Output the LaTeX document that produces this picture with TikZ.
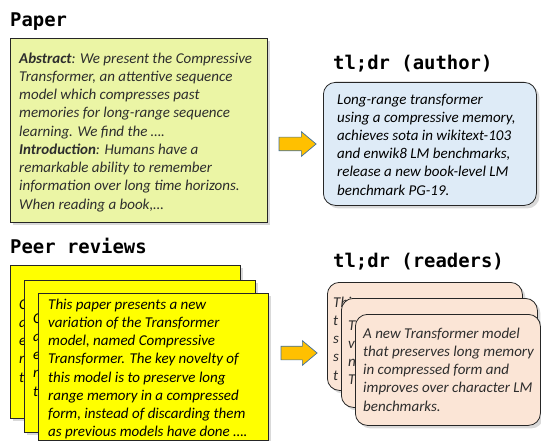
\documentclass[tikz,border=0pt]{standalone}
\usepackage{fontspec}
\usetikzlibrary{shapes.arrows,shadows}
\newfontfamily\bodyfont{Carlito}
\newfontfamily\headfont{DejaVu Sans Mono}
\definecolor{papergreen}{RGB}{235,245,165}
\definecolor{authorblue}{RGB}{222,235,247}
\definecolor{reviewyellow}{RGB}{255,255,0}
\definecolor{readerpink}{RGB}{251,229,214}
\definecolor{arroworange}{RGB}{255,192,0}
\definecolor{arrowblue}{RGB}{65,113,156}
\definecolor{boxline}{RGB}{38,38,38}
\definecolor{bodygray}{RGB}{45,45,45}
\tikzset{
 head/.style={anchor=base west,inner sep=0,font=\headfont\bfseries\fontsize{18.9}{22}\selectfont},
 % base anchor of these sits on the last line
 body/.style={anchor=base west,inner sep=0,align=left,text=bodygray,font=\bodyfont\itshape\fontsize{15}{18.25}\selectfont},
 card/.style={anchor=north west,inner sep=0,draw=boxline,line width=0.8pt,
   drop shadow={shadow xshift=3pt,shadow yshift=-3pt,opacity=0.3}},
 roundcard/.style={card,rounded corners=12pt},
 blockarrow/.style={single arrow,draw=arrowblue,fill=arroworange,line width=0.7pt,
   inner xsep=0,inner ysep=6.5pt,minimum width=24pt,single arrow head extend=5.5pt,single arrow tip angle=80}
}
\begin{document}
\begin{tikzpicture}[x=1pt,y=-1pt]
 \useasboundingbox (0,0) rectangle (541,441);
 % paper
 \node[head] (papertitle) at (10,27) {Paper};
 \node[card,fill=papergreen,minimum width=257,minimum height=184] (paper) at (10,38) {};
 \node[body] (papertext) at (19,209) {\textbf{Abstract}: We present the Compressive\\
  Transformer, an attentive sequence\\
  model which compresses past\\
  memories for long-range sequence\\
  learning. We find the ….\\
  \textbf{Introduction}: Humans have a\\
  remarkable ability to remember\\
  information over long time horizons.\\
  When reading a book,…};
 % author summary
 \node[head] (authortitle) at (333,70) {tl;dr (author)};
 \node[roundcard,fill=authorblue,minimum width=213,minimum height=123] (author) at (323,82) {};
 \node[body,text=black] (authortext) at (337,195.25) {Long-range transformer\\
  using a compressive memory,\\
  achieves sota in wikitext-103\\
  and enwik8 LM benchmarks,\\
  release a new book-level LM\\
  benchmark PG-19.};
 \node[blockarrow,minimum height=37pt] (arrowA) at (293.5,144) {};
 % peer reviews
 \node[head] (reviewtitle) at (10,253) {Peer reviews};
 \node[card,fill=reviewyellow,minimum width=230,minimum height=153] (reviewA) at (10,265) {};
 \node[body,text=black] (reviewAtext) at (19,382) {C\\a\\e\\m\\t};
 \node[card,fill=reviewyellow,minimum width=231,minimum height=152] (reviewB) at (24,280) {};
 \node[body,text=black] (reviewBtext) at (33,396) {C\\a\\e\\m\\t};
 \node[card,fill=reviewyellow,minimum width=230,minimum height=147] (reviewC) at (38,293) {};
 \node[body,text=black] (reviewCtext) at (48,436.75) {This paper presents a new\\
  variation of the Transformer\\
  model, named Compressive\\
  Transformer. The key novelty of\\
  this model is to preserve long\\
  range memory in a compressed\\
  form, instead of discarding them\\
  as previous models have done ….};
 % reader summaries
 \node[head] (readertitle) at (333,267) {tl;dr (readers)};
 \node[roundcard,fill=readerpink,minimum width=195,minimum height=108] (readerA) at (327,282) {};
 \node[body] (readerAtext) at (333,380) {Thi\\t\\s\\s\\t};
 \node[roundcard,fill=readerpink,minimum width=196,minimum height=109] (readerB) at (341,298) {};
 \node[body] (readerBtext) at (348,384.75) {T\\v\\n\\T};
 \node[roundcard,fill=readerpink,minimum width=185,minimum height=111] (readerC) at (355,314) {};
 \node[body] (readerCtext) at (363,411) {A new Transformer model\\
  that preserves long memory\\
  in compressed form and\\
  improves over character LM\\
  benchmarks.};
 \node[blockarrow,minimum height=36pt] (arrowB) at (295,353) {};
\end{tikzpicture}
\end{document}
